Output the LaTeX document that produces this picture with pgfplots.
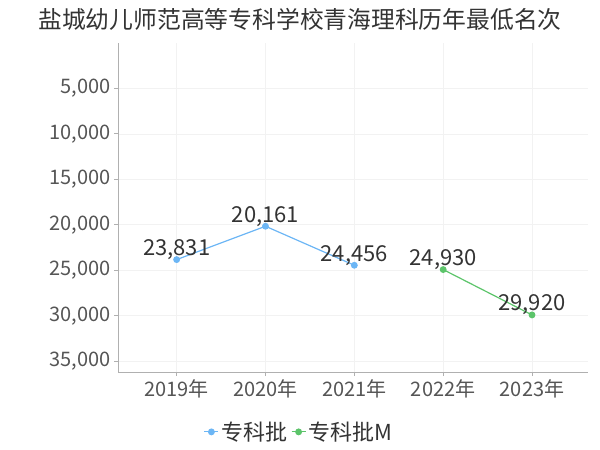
\documentclass[border=0pt]{standalone}
\usepackage{fontspec}
\setmainfont{Noto Sans CJK SC}
\usepackage{pgfplots}
\pgfplotsset{compat=1.18}

\definecolor{blueline}{HTML}{6CB6F5}
\definecolor{greenline}{HTML}{5CC46A}
\definecolor{tickgray}{HTML}{555555}
\definecolor{labelgray}{HTML}{333333}
\definecolor{axisgray}{HTML}{B0B0B0}
\definecolor{gridgray}{HTML}{F2F2F2}

\begin{document}
\begin{tikzpicture}
\path[use as bounding box] (0,0) rectangle (600pt,-450pt);
\node[text=labelgray, font=\fontsize{23.8}{27}\selectfont] at (300pt,-19pt)
  {盐城幼儿师范高等专科学校青海理科历年最低名次};
\begin{axis}[
  at={(118pt,-372pt)}, anchor=south west,
  width=470pt, height=329pt, scale only axis,
  xmin=-0.66, xmax=4.63,
  ymin=0, ymax=36200, y dir=reverse,
  axis x line*=bottom, axis y line*=left,
  axis line style={axisgray, line width=0.8pt},
  tick style={axisgray, line width=0.8pt},
  tick align=outside, major tick length=4pt,
  xtick={0,1,2,3,4},
  xticklabels={2019年,2020年,2021年,2022年,2023年},
  ytick={5000,10000,15000,20000,25000,30000,35000},
  scaled y ticks=false,
  yticklabel style={/pgf/number format/1000 sep={,}, /pgf/number format/fixed},
  /pgf/number format/assume math mode=true,
  ticklabel style={text=tickgray, font=\fontsize{20}{23}\selectfont},
  grid=major, grid style={gridgray, line width=0.6pt},
  nodes near coords,
  every node near coord/.append style={text=labelgray,
    font=\fontsize{22}{25}\selectfont, yshift=-4pt,
    /pgf/number format/1000 sep={,}, /pgf/number format/fixed},
  legend style={at={(0.385,-0.182)}, anchor=center, draw=none,
    font=\fontsize{22}{25}\selectfont, text=labelgray,
    legend columns=2, column sep=0pt,
    /tikz/every even column/.append style={column sep=2pt}},
  legend image code/.code={%
    \draw[mark repeat=2, mark phase=2]
      plot coordinates {(0pt,0pt) (7pt,0pt) (14pt,0pt)};},
]
\addplot[blueline, line width=1.2pt, mark=*, mark size=2.8pt]
  coordinates {(0,23831) (1,20161) (2,24456)};
\addlegendentry{专科批}
\addplot[greenline, line width=1.2pt, mark=*, mark size=2.8pt]
  coordinates {(3,24930) (4,29920)};
\addlegendentry{专科批M}
\end{axis}
\end{tikzpicture}
\end{document}
